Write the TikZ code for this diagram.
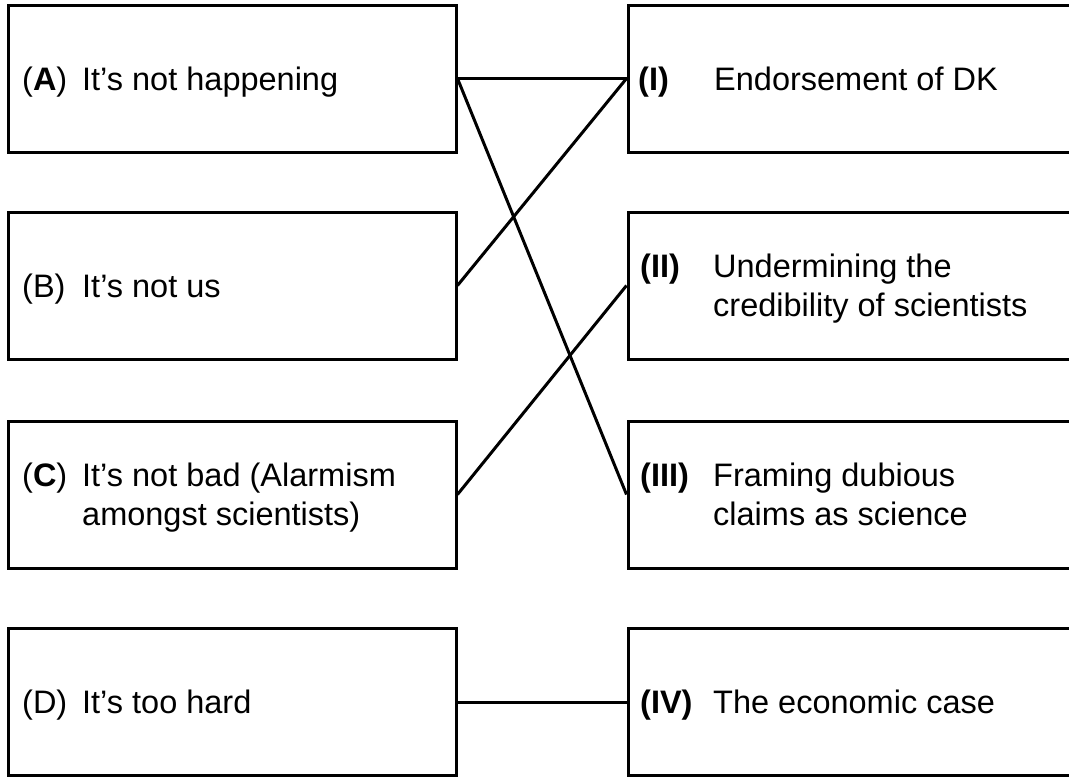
\documentclass[tikz,border=0pt]{standalone}
\usepackage{fontspec}
\setmainfont{Liberation Sans}
\begin{document}
\begin{tikzpicture}[x=1pt,y=-1pt,
  box/.style={draw, line width=3pt, rectangle, inner sep=0pt},
  lbox/.style={box, minimum width=448pt, minimum height=147pt},
  rbox/.style={box, minimum width=452pt, minimum height=147pt},
  txt/.style={anchor=west, inner sep=0pt, font=\fontsize{32.5}{39}\selectfont},
  link/.style={line width=3pt}]
\useasboundingbox (0,0) rectangle (1069,777);
\clip (0,0) rectangle (1069,777);
\fill[white] (0,0) rectangle (1069,777);
% left boxes
\node[lbox] (A) at (232,78.5) {};
\node[lbox] (B) at (232,285.5) {};
\node[lbox] (C) at (232,494.5) {};
\node[lbox] (D) at (232,702) {};
% right boxes
\node[rbox] (I) at (854,78.5) {};
\node[rbox] (II) at (854,285.5) {};
\node[rbox] (III) at (854,494.5) {};
\node[rbox] (IV) at (854,702) {};
% left texts
\node[txt] (tA) at (22,82.5) {\begin{tabular}{@{}p{60pt}@{}l@{}}(\textbf{A}) & It’s not happening\end{tabular}};
\node[txt] (tB) at (22,289.5) {\begin{tabular}{@{}p{60pt}@{}l@{}}(B) & It’s not us\end{tabular}};
\node[txt] (tC) at (22,498.5) {\begin{tabular}{@{}p{60pt}@{}l@{}}(\textbf{C}) & It’s not bad (Alarmism\\ & amongst scientists)\end{tabular}};
\node[txt] (tD) at (22,706) {\begin{tabular}{@{}p{60pt}@{}l@{}}(D) & It’s too hard\end{tabular}};
% right texts
\node[txt] (tI) at (638,82.5) {\begin{tabular}{@{}p{76pt}@{}l@{}}\textbf{(I)} & Endorsement of DK\end{tabular}};
\node[txt] (tII) at (640,289.5) {\begin{tabular}{@{}p{73pt}@{}l@{}}\textbf{(II)} & Undermining the\\ & credibility of scientists\end{tabular}};
\node[txt] (tIII) at (640,498.5) {\begin{tabular}{@{}p{73pt}@{}l@{}}\textbf{(III)} & Framing dubious\\ & claims as science\end{tabular}};
\node[txt] (tIV) at (640,706) {\begin{tabular}{@{}p{73pt}@{}l@{}}\textbf{(IV)} & The economic case\end{tabular}};
% connectors
\draw[link] (A.east) -- (I.west);
\draw[link] (A.east) -- (III.west);
\draw[link] (B.east) -- (I.west);
\draw[link] (C.east) -- (II.west);
\draw[link] (D.east) -- (IV.west);
\end{tikzpicture}
\end{document}
